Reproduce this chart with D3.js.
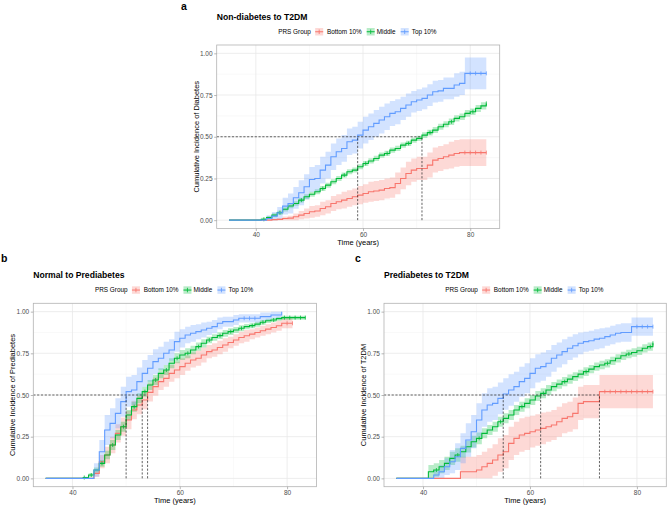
<!DOCTYPE html>
<html><head><meta charset="utf-8">
<script src="https://cdn.jsdelivr.net/npm/d3@7"></script>
<style>body{margin:0;background:#fff} svg text{font-family:"Liberation Sans",Arial,Helvetica,sans-serif}</style>
</head><body><svg id="chart" width="668" height="505"></svg>
<script>
// ---------- shared categories / ticks ----------
const groups = ["Bottom 10%", "Middle", "Top 10%"];
const groupColors = ["#F8766D", "#00BA38", "#619CFF"];
const legendTitle = "PRS Group";
const xTicks = [40, 60, 80];
const xMinor = [50, 70];
const yTicks = [0, 0.25, 0.5, 0.75, 1];
const yTickLabels = ["0.00", "0.25", "0.50", "0.75", "1.00"];
const yMinor = [0.125, 0.375, 0.625, 0.875];
const timeDomain = [32.7, 85.5];
const probDomain = [-0.05, 1.05];

// ---------- panel a: Non-diabetes to T2DM ----------
const aBotT   = [35,43,44,45,46,47,48,49,50,51,52,53,54,55,56,57,58,59,60,61,62,63,64,65,66,67,68,69,70,72,73,74,75,76,77,78,83];
const aBotEst = [0,.003,.005,.01,.012,.02,.03,.04,.05,.055,.07,.08,.10,.11,.12,.13,.14,.15,.16,.17,.175,.18,.19,.195,.22,.25,.28,.30,.31,.33,.36,.37,.38,.39,.40,.405,.405];
const aBotCI  = [0,.005,.008,.012,.015,.02,.025,.03,.035,.035,.04,.04,.045,.045,.05,.05,.05,.055,.055,.06,.06,.06,.06,.06,.065,.065,.07,.07,.07,.075,.075,.075,.075,.08,.08,.08,.08];
const aBotCens = [79,80,81,82,83];

const aMidT   = [35,41,42,43,44,45,46,47,48,49,50,51,52,53,54,55,56,57,58,59,60,61,62,63,64,65,66,67,68,69,70,71,72,73,74,75,76,77,78,79,80,81,82,83];
const aMidEst = [0,.005,.015,.03,.045,.065,.085,.10,.12,.14,.155,.17,.19,.21,.23,.25,.27,.29,.30,.32,.34,.355,.37,.39,.40,.42,.43,.45,.46,.48,.49,.51,.525,.54,.56,.575,.59,.61,.62,.64,.65,.67,.685,.70];
const aMidCI  = [0,.01,.01,.012,.012,.013,.013,.014,.014,.015,.015,.015,.015,.015,.015,.015,.015,.015,.015,.015,.015,.016,.016,.016,.016,.016,.016,.016,.016,.016,.016,.017,.017,.018,.018,.018,.019,.019,.02,.02,.02,.021,.022,.022];
const aMidCens = [41.5,44.5,48.5,52.5,56.5,60.5,64.5,68.5,72.5,76.5,80.5,83];

const aTopT   = [35,42,43,44,45,46,47,48,49,50,51,52,53,54,55,56,57,58,59,60,61,62,63,64,65,66,67,68,69,70,71,72,73,74,75,76,77,78,79,83];
const aTopEst = [0,.01,.024,.044,.084,.10,.134,.164,.20,.244,.25,.30,.33,.38,.41,.43,.47,.48,.51,.54,.56,.58,.60,.62,.64,.65,.67,.69,.71,.72,.73,.75,.77,.775,.79,.79,.81,.82,.88,.88];
const aTopCI  = [0,.02,.025,.035,.05,.06,.065,.075,.075,.075,.08,.08,.08,.08,.08,.08,.08,.08,.08,.08,.08,.08,.08,.08,.075,.075,.07,.07,.065,.065,.065,.065,.065,.065,.065,.065,.07,.07,.095,.095];
const aTopCens = [80,81,82,83];
const aMedians = [null, 71, 59];

// ---------- panel b: Normal to Prediabetes ----------
const bBotT   = [35,44,45,46,47,48,49,50,51,52,53,54,55,56,57,58,59,60,61,62,63,64,65,66,67,68,69,70,71,72,73,74,75,76,77,78,79,81];
const bBotEst = [0,.03,.10,.14,.20,.27,.31,.35,.41,.44,.47,.516,.55,.58,.60,.63,.65,.67,.69,.71,.72,.74,.76,.77,.785,.80,.815,.83,.845,.855,.865,.875,.885,.895,.905,.915,.93,.93];
const bBotCI  = [0,.02,.04,.05,.05,.055,.055,.055,.055,.055,.055,.055,.055,.05,.05,.05,.05,.05,.045,.045,.045,.045,.04,.04,.04,.04,.035,.035,.035,.035,.03,.03,.03,.03,.03,.03,.03,.03];
const bBotCens = [80,81];

const bMidT   = [35,42,43,44,45,46,47,48,49,50,51,52,53,54,55,56,57,58,59,60,61,62,63,64,65,66,67,68,69,70,71,72,73,74,75,76,77,78,79,83.4];
const bMidEst = [0,.005,.02,.05,.09,.14,.20,.26,.31,.38,.43,.48,.52,.56,.59,.63,.65,.69,.72,.74,.75,.77,.79,.81,.83,.845,.856,.87,.88,.89,.90,.91,.916,.925,.936,.945,.95,.958,.964,.964];
const bMidCI  = [0,.005,.01,.015,.02,.025,.03,.03,.03,.03,.03,.03,.03,.03,.03,.03,.03,.03,.03,.03,.03,.025,.025,.025,.02,.02,.02,.02,.02,.018,.018,.016,.015,.015,.014,.013,.012,.012,.012,.012];
const bMidCens = [42.2,43.5,45.5,47.5,49.5,51.5,53.5,55.5,57.5,59.5,61.5,63.5,65.5,67.5,69.5,71.5,73.5,75.5,77.5,79.5,80.5,81.5,82.5,83.4];

const bTopT   = [35,44,45,46,47,48,49,50,51,52,53,54,55,56,57,58,59,60,61,62,63,64,65,66,67,68,70,71,75,77,79];
const bTopEst = [0,.05,.16,.29,.33,.39,.46,.52,.53,.58,.63,.66,.70,.72,.75,.77,.82,.84,.86,.87,.88,.89,.90,.91,.93,.94,.95,.96,.97,.98,1.0];
const bTopCI  = [0,.04,.07,.09,.09,.09,.09,.09,.09,.085,.08,.08,.075,.07,.07,.065,.06,.055,.05,.05,.045,.045,.04,.04,.035,.03,.03,.025,.025,.02,.01];
const bTopCens = [72,73,74];
const bMedians = [54, 53, 50];

// ---------- panel c: Prediabetes to T2DM ----------
const cBotT   = [35,47,50,51,52,53,54,55,56,57,58,59,60,61,62,63,64,65,66,67,68,69,70,73,83];
const cBotEst = [0,.04,.05,.07,.09,.11,.14,.16,.21,.24,.26,.27,.28,.29,.30,.31,.32,.34,.36,.37,.39,.45,.46,.52,.52];
const cBotCI  = [0,.09,.09,.09,.09,.095,.1,.1,.1,.1,.1,.1,.095,.095,.095,.09,.09,.09,.09,.09,.095,.1,.1,.1,.1];
const cBotCens = [74,75,76,77,78,79,80,81,82,83];

const cMidT   = [35,41,42,43,44,45,46,47,48,49,50,51,52,53,54,55,56,57,58,59,60,61,62,63,64,65,66,67,68,69,70,71,72,73,74,75,76,77,78,79,80,81,82,83];
const cMidEst = [0,.04,.05,.07,.09,.12,.14,.16,.19,.22,.24,.27,.29,.31,.34,.36,.38,.41,.43,.45,.47,.494,.51,.53,.55,.565,.58,.595,.61,.625,.64,.655,.67,.68,.69,.705,.72,.735,.746,.755,.765,.78,.79,.81];
const cMidCI  = [0,.04,.04,.04,.04,.04,.04,.035,.035,.035,.035,.03,.03,.03,.03,.03,.03,.03,.03,.03,.03,.03,.03,.03,.028,.028,.028,.028,.026,.026,.026,.025,.025,.025,.025,.025,.025,.025,.025,.025,.025,.025,.025,.025];
const cMidCens = [42.5,46.5,50.5,54.5,58.5,62.5,66.5,70.5,74.5,78.5,82.5,83];

const cTopT   = [35,42,43,44,45,46,47,48,49,50,51,52,53,54,55,56,57,58,59,60,61,62,63,64,65,66,67,68,69,70,71,72,73,74,75,76,77,79,83];
const cTopEst = [0,.02,.04,.07,.10,.13,.18,.23,.28,.35,.41,.44,.45,.48,.506,.53,.55,.58,.60,.63,.66,.67,.69,.72,.74,.76,.78,.795,.81,.82,.825,.835,.84,.85,.86,.87,.875,.91,.91];
const cTopCI  = [0,.03,.04,.05,.07,.08,.09,.10,.10,.10,.10,.10,.10,.095,.095,.095,.09,.09,.09,.09,.085,.085,.08,.08,.075,.075,.07,.07,.065,.06,.06,.06,.06,.055,.055,.055,.055,.055,.055];
const cTopCens = [80,81,82,83];
const cMedians = [73, 62, 55];

// ---------- panels (layout) ----------
const panels = [
  {letter:"a", letterPos:[181,10], title:"Non-diabetes to T2DM", ylab:"Cumulative Incidence of Diabetes",
   box:[216.7,45,283,183.5], medians:aMedians,
   series:[{t:aBotT,est:aBotEst,ci:aBotCI,cens:aBotCens},{t:aMidT,est:aMidEst,ci:aMidCI,cens:aMidCens},{t:aTopT,est:aTopEst,ci:aTopCI,cens:aTopCens}]},
  {letter:"b", letterPos:[1,262], title:"Normal to Prediabetes", ylab:"Cumulative Incidence of Prediabetes",
   box:[33.3,303.3,283.3,183.4], medians:bMedians,
   series:[{t:bBotT,est:bBotEst,ci:bBotCI,cens:bBotCens},{t:bMidT,est:bMidEst,ci:bMidCI,cens:bMidCens},{t:bTopT,est:bTopEst,ci:bTopCI,cens:bTopCens}]},
  {letter:"c", letterPos:[355,262], title:"Prediabetes to T2DM", ylab:"Cumulative Incidence of T2DM",
   box:[384,303.3,282.3,183.4], medians:cMedians,
   series:[{t:cBotT,est:cBotEst,ci:cBotCI,cens:cBotCens},{t:cMidT,est:cMidEst,ci:cMidCI,cens:cMidCens},{t:cTopT,est:cTopEst,ci:cTopCI,cens:cTopCens}]}
];

const svg = d3.select("#chart");
svg.append("rect").attr("width",668).attr("height",505).attr("fill","#fff");

function valueAt(s, time){
  let v = 0;
  for (let j=0;j<s.t.length;j++){ if (s.t[j] <= time) v = s.est[j]; }
  return v;
}

panels.forEach((p, pi) => {
  const [L,T,W,H] = p.box;
  const x = d3.scaleLinear().domain(timeDomain).range([L, L+W]);
  const y = d3.scaleLinear().domain(probDomain).range([T+H, T]);
  const g = svg.append("g");
  const clipId = "clip"+pi;
  svg.append("clipPath").attr("id", clipId).append("rect").attr("x",L).attr("y",T).attr("width",W).attr("height",H);

  // grid
  const grid = g.append("g");
  xMinor.forEach(v => grid.append("line").attr("x1",x(v)).attr("x2",x(v)).attr("y1",T).attr("y2",T+H).attr("stroke","#f2f2f2").attr("stroke-width",0.5));
  yMinor.forEach(v => grid.append("line").attr("x1",L).attr("x2",L+W).attr("y1",y(v)).attr("y2",y(v)).attr("stroke","#f2f2f2").attr("stroke-width",0.5));
  xTicks.forEach(v => grid.append("line").attr("x1",x(v)).attr("x2",x(v)).attr("y1",T).attr("y2",T+H).attr("stroke","#e8e8e8").attr("stroke-width",0.8));
  yTicks.forEach(v => grid.append("line").attr("x1",L).attr("x2",L+W).attr("y1",y(v)).attr("y2",y(v)).attr("stroke","#e8e8e8").attr("stroke-width",0.8));

  const plot = g.append("g").attr("clip-path", `url(#${clipId})`);
  // confidence bands
  p.series.forEach((s, i) => {
    const pts = s.t.map((t, j) => ({t, lo: Math.max(0, s.est[j]-s.ci[j]), hi: Math.min(1, s.est[j]+s.ci[j])}));
    plot.append("path")
      .attr("d", d3.area().curve(d3.curveStepAfter).x(d=>x(d.t)).y0(d=>y(d.lo)).y1(d=>y(d.hi))(pts))
      .attr("fill", groupColors[i]).attr("fill-opacity", 0.28);
  });
  // step lines
  p.series.forEach((s, i) => {
    const pts = s.t.map((t, j) => ({t, v: s.est[j]}));
    plot.append("path")
      .attr("d", d3.line().curve(d3.curveStepAfter).x(d=>x(d.t)).y(d=>y(d.v))(pts))
      .attr("fill","none").attr("stroke", groupColors[i]).attr("stroke-width", 1.1);
    s.cens.forEach(c => {
      const v = valueAt(s, c);
      plot.append("line").attr("x1",x(c)).attr("x2",x(c)).attr("y1",y(v)-2).attr("y2",y(v)+2)
        .attr("stroke", groupColors[i]).attr("stroke-width", 0.8);
    });
  });
  // median lines
  const meds = p.medians.filter(m => m !== null);
  const dash = "2.2,1.6";
  plot.append("line").attr("x1",L).attr("x2",x(d3.max(meds))).attr("y1",y(0.5)).attr("y2",y(0.5))
    .attr("stroke","#222").attr("stroke-width",0.7).attr("stroke-dasharray",dash);
  meds.forEach(m => plot.append("line").attr("x1",x(m)).attr("x2",x(m)).attr("y1",y(0)).attr("y2",y(0.5))
    .attr("stroke","#222").attr("stroke-width",0.7).attr("stroke-dasharray",dash));

  // border
  g.append("rect").attr("x",L).attr("y",T).attr("width",W).attr("height",H)
    .attr("fill","none").attr("stroke","#b3b3b3").attr("stroke-width",0.8);

  // axes
  const ax = g.append("g").attr("transform",`translate(0,${T+H})`)
    .call(d3.axisBottom(x).tickValues(xTicks).tickSize(2.5).tickPadding(1.6));
  const ay = g.append("g").attr("transform",`translate(${L},0)`)
    .call(d3.axisLeft(y).tickValues(yTicks).tickFormat((d,i)=>yTickLabels[i]).tickSize(2.5).tickPadding(1.6));
  [ax, ay].forEach(a => {
    a.select(".domain").remove();
    a.selectAll("line").attr("stroke","#999").attr("stroke-width",0.7);
    a.selectAll("text").attr("fill","#4d4d4d").style("font-size","6.5px").style("font-family",'"Liberation Sans",Arial,sans-serif');
  });

  // axis titles
  g.append("text").attr("x", L+W/2).attr("y", T+H+16.5).attr("text-anchor","middle")
    .style("font-size","7.5px").attr("fill","#000").text("Time (years)");
  g.append("text").attr("transform",`translate(${L-18},${T+H/2}) rotate(-90)`).attr("text-anchor","middle")
    .style("font-size","7.5px").attr("fill","#000").text(p.ylab);

  // title + letter
  g.append("text").attr("x", L).attr("y", T-25).style("font-size","8.6px").style("font-weight","bold").text(p.title);
  g.append("text").attr("x", p.letterPos[0]).attr("y", p.letterPos[1]).style("font-size","10.5px").style("font-weight","bold").text(p.letter);

  // legend
  const cx = L + W/2, ly = T - 11;
  g.append("text").attr("x", cx-80).attr("y", ly).style("font-size","6.4px").attr("fill","#000").text(legendTitle);
  const keyX = [-43, 8.5, 42.5], labX = [-31.3, 18.5, 53.5];
  groups.forEach((name, i) => {
    const kx = cx + keyX[i];
    g.append("rect").attr("x",kx).attr("y",ly-6).attr("width",8).attr("height",7.5)
      .attr("fill",groupColors[i]).attr("fill-opacity",0.28);
    g.append("line").attr("x1",kx).attr("x2",kx+8).attr("y1",ly-2.25).attr("y2",ly-2.25).attr("stroke",groupColors[i]).attr("stroke-width",1);
    g.append("line").attr("x1",kx+4).attr("x2",kx+4).attr("y1",ly-4.5).attr("y2",ly).attr("stroke",groupColors[i]).attr("stroke-width",0.8);
    g.append("text").attr("x", cx+labX[i]).attr("y", ly).style("font-size","6.4px").attr("fill","#000").text(name);
  });
});
</script></body></html>
